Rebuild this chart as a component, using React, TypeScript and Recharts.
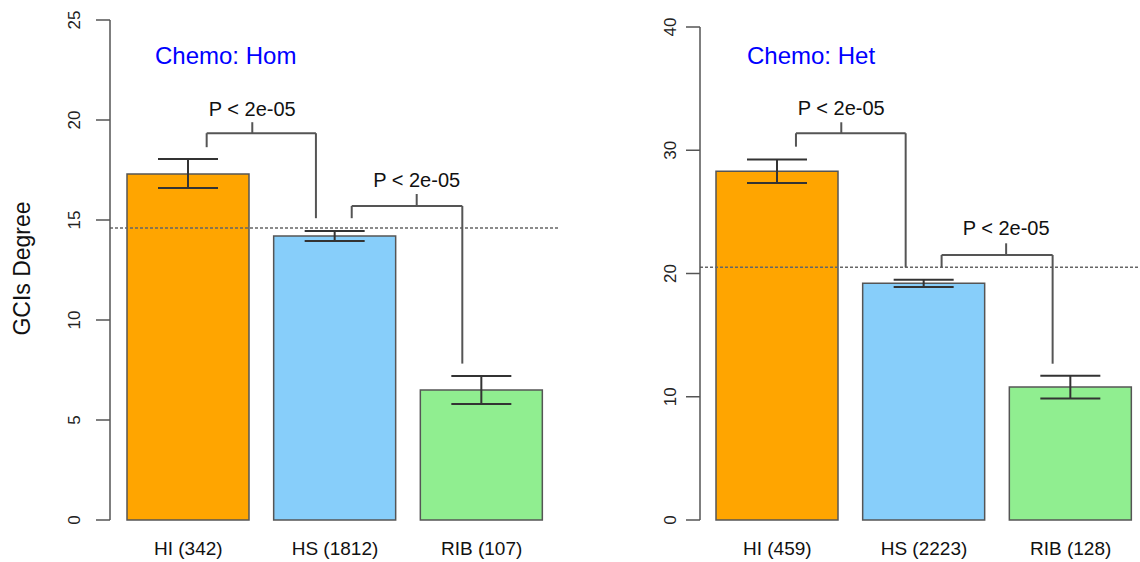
import { BarChart, Bar, XAxis, YAxis, ErrorBar, Cell, ReferenceLine, ReferenceDot } from "recharts";

const homCategories = ["HI (342)", "HS (1812)", "RIB (107)"];
const homMeans = [17.3, 14.2, 6.5];
const homLow = [16.6, 13.95, 5.8];
const homHigh = [18.05, 14.45, 7.2];
const homTicks = [0, 5, 10, 15, 20, 25];
const homRef = 14.6;

const hetCategories = ["HI (459)", "HS (2223)", "RIB (128)"];
const hetMeans = [28.3, 19.2, 10.8];
const hetLow = [27.35, 18.9, 9.85];
const hetHigh = [29.25, 19.5, 11.7];
const hetTicks = [0, 10, 20, 30, 40];
const hetRef = 20.5;

const barColors = ["#FFA500", "#87CEFA", "#90EE90"];
const pLabel = "P < 2e-05";

// brackets in data units: legs x (bar index), leg bottoms, bar height, tick top, label y
const homBrackets = [
  { x1: 0.125, x2: 0.87, xm: 0.436, yL: 18.64, yR: 15.09, yH: 19.34, yT: 19.89, yLab: 20.57 },
  { x1: 1.114, x2: 1.868, xm: 1.557, yL: 15.09, yR: 7.82, yH: 15.7, yT: 16.3, yLab: 17.0 },
];
const hetBrackets = [
  { x1: 0.127, x2: 0.875, xm: 0.436, yL: 30.29, yR: 20.5, yH: 31.38, yT: 32.27, yLab: 33.43 },
  { x1: 1.12, x2: 1.877, xm: 1.56, yL: 20.5, yR: 12.68, yH: 21.5, yT: 22.45, yLab: 23.67 },
];

const font = '"Liberation Sans", Arial, Helvetica, sans-serif';

function Panel({ cats, means, lows, highs, ticks, refY, brackets, width, axisW, padL, padR, top, tickLabelX }) {
  const data = cats.map((c, i) => ({
    name: c,
    idx: i,
    mean: means[i],
    err: [means[i] - lows[i], highs[i] - means[i]],
  }));
  const pad = { left: padL, right: padR };
  const seg = (xa, ya, xb, yb, k) => (
    <ReferenceLine
      key={k}
      xAxisId="n"
      segment={[{ x: xa, y: ya }, { x: xb, y: yb }]}
      stroke="#555"
      strokeWidth={2}
    />
  );
  return (
    <BarChart width={width} height={562} data={data} margin={{ top, right: 0, bottom: 0, left: 0 }}>
      <XAxis
        dataKey="name"
        padding={pad}
        height={42}
        tickSize={0}
        tickMargin={0}
        axisLine={false}
        tickLine={false}
        interval={0}
        tick={(p) => (
          <text x={p.x} y={p.y + 28} textAnchor="middle" dominantBaseline="central" fontSize={19} fontFamily={font} fill="#111">
            {p.payload.value}
          </text>
        )}
      />
      <XAxis
        xAxisId="n"
        dataKey="idx"
        type="number"
        domain={[-0.5, 2.5]}
        allowDataOverflow
        padding={pad}
        hide
      />
      <YAxis
        width={axisW}
        domain={[0, ticks[ticks.length - 1]]}
        ticks={ticks}
        interval={0}
        tickSize={14}
        axisLine={{ stroke: "#555", strokeWidth: 1.5 }}
        tickLine={{ stroke: "#555", strokeWidth: 1.5 }}
        tick={(p) => (
          <text
            x={tickLabelX}
            y={p.y}
            transform={`rotate(-90 ${tickLabelX} ${p.y})`}
            textAnchor="middle"
            dominantBaseline="central"
            fontSize={17}
            fontFamily={font}
            fill="#222"
          >
            {p.payload.value}
          </text>
        )}
      />
      <Bar dataKey="mean" barSize={122} stroke="#555" strokeWidth={1.5} isAnimationActive={false}>
        {data.map((d, i) => (
          <Cell key={d.name} fill={barColors[i]} />
        ))}
        <ErrorBar dataKey="err" width={30} stroke="#333" strokeWidth={2} isAnimationActive={false} />
      </Bar>
      <ReferenceLine y={refY} stroke="#666" strokeDasharray="3 2" strokeWidth={1.5} />
      {brackets.map((b, i) => [
        seg(b.x1, b.yL, b.x1, b.yH, `a${i}`),
        seg(b.x1, b.yH, b.x2, b.yH, `b${i}`),
        seg(b.x2, b.yH, b.x2, b.yR, `c${i}`),
        seg(b.xm, b.yH, b.xm, b.yT, `d${i}`),
        <ReferenceDot
          key={`l${i}`}
          xAxisId="n"
          x={b.xm}
          y={b.yLab}
          r={0}
          fill="none"
          stroke="none"
          label={{ value: pLabel, position: "center", fontSize: 20, fontFamily: font, fill: "#111" }}
        />,
      ])}
    </BarChart>
  );
}

const titleStyle = {
  position: "absolute" as const,
  top: 44,
  fontFamily: font,
  fontSize: 24,
  lineHeight: "24px",
  color: "#0000FF",
  whiteSpace: "nowrap" as const,
};

export default function App() {
  return (
    <div style={{ position: "absolute", left: 0, top: 0, width: 1140, height: 562, overflow: "hidden", background: "#fff" }}>
      <div style={{ position: "absolute", left: 0, top: 0 }}>
        <Panel
          cats={homCategories}
          means={homMeans}
          lows={homLow}
          highs={homHigh}
          ticks={homTicks}
          refY={homRef}
          brackets={homBrackets}
          width={559}
          axisW={110}
          padL={5}
          padR={4}
          top={20}
          tickLabelX={74}
        />
      </div>
      <div style={{ position: "absolute", left: 570, top: 0 }}>
        <Panel
          cats={hetCategories}
          means={hetMeans}
          lows={hetLow}
          highs={hetHigh}
          ticks={hetTicks}
          refY={hetRef}
          brackets={hetBrackets}
          width={574}
          axisW={130}
          padL={4}
          padR={0}
          top={27}
          tickLabelX={100}
        />
      </div>
      <div style={{ ...titleStyle, left: 155 }}>Chemo: Hom</div>
      <div style={{ ...titleStyle, left: 747 }}>Chemo: Het</div>
      <div
        style={{
          position: "absolute",
          left: 21.5 - 100,
          top: 268 - 11.5,
          width: 200,
          textAlign: "center",
          fontFamily: font,
          fontSize: 23,
          lineHeight: "23px",
          color: "#111",
          transform: "rotate(-90deg)",
        }}
      >
        GCIs Degree
      </div>
    </div>
  );
}
